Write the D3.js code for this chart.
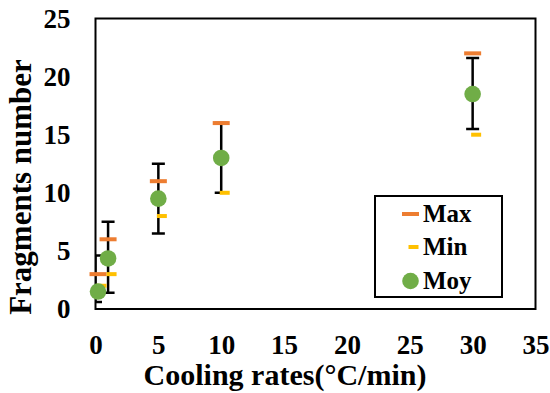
<!DOCTYPE html>
<html>
<head>
<meta charset="utf-8">
<script src="https://cdn.jsdelivr.net/npm/d3@7"></script>
<style>
  body { margin: 0; background: #fff; }
  svg { display: block; }
  .chart text { font-family: "Liberation Serif", "Times New Roman", serif; font-weight: bold; fill: #000; }
  .axis path, .axis line { display: none; }
</style>
</head>
<body>
<svg id="chart" class="chart" width="550" height="393"></svg>
<script>
  // cooling rate (°C/min) and fragment counts
  var rates = [0.2, 1, 5, 10, 30];
  var moy = [1.5, 4.35, 9.5, 13, 18.5];
  var maxVals = [3, 6, 11, 16, 22];
  var minVals = [2, 3, 8, 10, 15];
  // error bars (first one sits on the y axis in the original)
  var errX = [0, 1, 5, 10, 30];
  var errLow = [0.6, 1.4, 6.5, 10, 15.5];
  var errHigh = [4.6, 7.5, 12.5, 16, 21.6];
  var xTicks = [0, 5, 10, 15, 20, 25, 30, 35];
  var yTicks = [0, 5, 10, 15, 20, 25];
  var legendItems = ["Max", "Min", "Moy"];

  var svg = d3.select("#chart");
  var pLeft = 95.5, pRight = 535.5, pTop = 18.5, pBottom = 309;

  var x = d3.scaleLinear().domain([0, 35]).range([pLeft, pRight]);
  var y = d3.scaleLinear().domain([0, 25]).range([pBottom, pTop]);

  svg.append("defs").append("clipPath").attr("id", "plotclip")
    .append("rect")
    .attr("x", pLeft).attr("y", pTop)
    .attr("width", pRight - pLeft).attr("height", pBottom - pTop);

  // axes (labels only, no tick marks)
  var gx = svg.append("g").attr("class", "axis")
    .attr("transform", "translate(0," + pBottom + ")")
    .call(d3.axisBottom(x).tickValues(xTicks).tickSize(0).tickPadding(26));
  gx.selectAll("text").style("font-size", "27px");

  var gy = svg.append("g").attr("class", "axis")
    .attr("transform", "translate(" + pLeft + ",0)")
    .call(d3.axisLeft(y).tickValues(yTicks).tickSize(0).tickPadding(25));
  gy.selectAll("text").style("font-size", "27px");

  // error bars, clipped to the plot area
  var cap = 6.5;
  var eb = svg.append("g").attr("clip-path", "url(#plotclip)")
    .attr("stroke", "#000").attr("stroke-width", 2.5);
  errX.forEach(function(r, i) {
    eb.append("line")
      .attr("x1", x(r)).attr("x2", x(r))
      .attr("y1", y(errLow[i])).attr("y2", y(errHigh[i]));
    [errLow[i], errHigh[i]].forEach(function(v) {
      eb.append("line")
        .attr("x1", x(r) - cap).attr("x2", x(r) + cap)
        .attr("y1", y(v)).attr("y2", y(v));
    });
  });

  // plot border
  svg.append("rect")
    .attr("x", pLeft).attr("y", pTop)
    .attr("width", pRight - pLeft).attr("height", pBottom - pTop)
    .attr("fill", "none").attr("stroke", "#000").attr("stroke-width", 2);

  var plot = svg.append("g");

  // Max dashes
  plot.append("g").selectAll("rect")
    .data(rates).enter().append("rect")
    .attr("x", function(d) { return x(d) - 8.5; })
    .attr("y", function(d, i) { return y(maxVals[i]) - 2; })
    .attr("width", 17).attr("height", 4)
    .attr("fill", "#ED7D31");

  // Min dashes
  plot.append("g").selectAll("rect")
    .data(rates).enter().append("rect")
    .attr("x", function(d) { return x(d) - 1.5; })
    .attr("y", function(d, i) { return y(minVals[i]) - 2; })
    .attr("width", 10).attr("height", 4)
    .attr("fill", "#FFC000");

  // Moy points
  plot.append("g").selectAll("circle")
    .data(rates).enter().append("circle")
    .attr("cx", function(d) { return x(d); })
    .attr("cy", function(d, i) { return y(moy[i]); })
    .attr("r", 8.3)
    .attr("fill", "#70AD47");

  // axis titles
  svg.append("text")
    .attr("x", 285).attr("y", 385)
    .attr("text-anchor", "middle")
    .style("font-size", "30px")
    .text("Cooling rates(°C/min)");

  svg.append("text")
    .attr("transform", "translate(31,187) rotate(-90)")
    .attr("text-anchor", "middle")
    .style("font-size", "31px")
    .text("Fragments number");

  // legend
  var lg = svg.append("g");
  lg.append("rect")
    .attr("x", 375).attr("y", 196).attr("width", 127).attr("height", 101)
    .attr("fill", "#fff").attr("stroke", "#000").attr("stroke-width", 2);

  var legendY = [214, 247, 281];
  legendItems.forEach(function(name, i) {
    var cy = legendY[i];
    if (name === "Max") {
      lg.append("rect").attr("x", 402).attr("y", cy - 2).attr("width", 17).attr("height", 4).attr("fill", "#ED7D31");
    } else if (name === "Min") {
      lg.append("rect").attr("x", 408.5).attr("y", cy - 2).attr("width", 10).attr("height", 4).attr("fill", "#FFC000");
    } else {
      lg.append("circle").attr("cx", 410.5).attr("cy", cy).attr("r", 8.3).attr("fill", "#70AD47");
    }
    lg.append("text")
      .attr("x", 423).attr("y", cy + 8)
      .style("font-size", "25px")
      .text(name);
  });
</script>
</body>
</html>
